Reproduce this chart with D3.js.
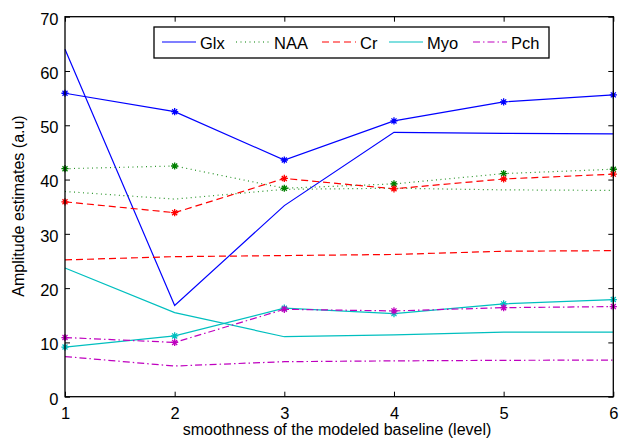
<!DOCTYPE html>
<html><head><meta charset="utf-8">
<script src="https://cdn.jsdelivr.net/npm/d3@7"></script>
<style>body{margin:0;background:#fff}svg{display:block;font-family:"Liberation Sans",Arial,sans-serif}</style>
</head><body><svg id="c" width="619" height="439"></svg>
<script>
const levels = [1, 2, 3, 4, 5, 6];
const xTicks = [1, 2, 3, 4, 5, 6];
const yTicks = [0, 10, 20, 30, 40, 50, 60, 70];
const glxMarked = [55.9, 52.5, 43.6, 50.8, 54.3, 55.6];
const glxPlain  = [64.0, 16.8, 35.2, 48.7, 48.5, 48.4];
const naaMarked = [42.0, 42.5, 38.4, 39.2, 41.1, 41.9];
const naaPlain  = [37.8, 36.4, 38.2, 38.4, 38.1, 38.0];
const crMarked  = [35.9, 33.9, 40.2, 38.3, 40.1, 41.0];
const crPlain   = [25.2, 25.8, 26.0, 26.2, 26.8, 26.9];
const myoMarked = [9.15, 11.2, 16.3, 15.3, 17.1, 17.9];
const myoPlain  = [23.7, 15.5, 11.05, 11.4, 11.9, 11.9];
const pchMarked = [10.9, 10.0, 16.1, 15.8, 16.4, 16.6];
const pchPlain  = [7.4, 5.65, 6.45, 6.6, 6.7, 6.75];
const legendNames = ["Glx", "NAA", "Cr", "Myo", "Pch"];

const series = [
  {name:"Glx", color:"#0000ff", dash:null, mcolor:"#0000ff", marked:glxMarked, plain:glxPlain},
  {name:"NAA", color:"#008000", dash:"1,3.5", mcolor:"#008000", marked:naaMarked, plain:naaPlain},
  {name:"Cr", color:"#ff0000", dash:"7,4", mcolor:"#ff0000", marked:crMarked, plain:crPlain},
  {name:"Myo", color:"#00bfbf", dash:null, mcolor:"#00bfbf", marked:myoMarked, plain:myoPlain},
  {name:"Pch", color:"#bf00bf", dash:"7,3,1.5,3", mcolor:"#bf00bf", marked:pchMarked, plain:pchPlain}
];

const svg = d3.select("#c");
const L = 65, R = 613.3, T = 16.7, B = 396.7;
const FS = 16.5;
const x = d3.scaleLinear().domain([1, 6]).range([L, R]);
const y = d3.scaleLinear().domain([0, 70]).range([B, T]);

const plot = svg.append("g");
const line = d3.line().x((d,i)=>x(levels[i])).y(d=>y(d));

function star(g, cx, cy, r, color){
  const p = `M${cx-r},${cy}L${cx+r},${cy}M${cx},${cy-r}L${cx},${cy+r}` +
    `M${cx-r*0.7},${cy-r*0.7}L${cx+r*0.7},${cy+r*0.7}M${cx-r*0.7},${cy+r*0.7}L${cx+r*0.7},${cy-r*0.7}`;
  g.append("path").attr("d", p).attr("stroke", color).attr("stroke-width", 1.3).attr("fill","none");
}

series.forEach(s=>{
  [s.plain, s.marked].forEach(arr=>{
    plot.append("path").datum(arr).attr("d", line).attr("fill","none")
      .attr("stroke", s.color).attr("stroke-width", 1.2)
      .attr("stroke-dasharray", s.dash).attr("stroke-opacity", s.name==="NAA"?0.85:1);
  });
  s.marked.forEach((v,i)=>star(plot, x(levels[i]), y(v), 3.6, s.mcolor));
});

// axes box
const ax = svg.append("g");
ax.append("rect").attr("x", L).attr("y", T).attr("width", R-L).attr("height", B-T)
  .attr("fill","none").attr("stroke","#000").attr("stroke-width",1.3);

const xAxB = d3.axisBottom(x).tickValues(xTicks).tickSize(-5).tickPadding(0).tickFormat(d3.format("d"));
const gxb = ax.append("g").attr("transform",`translate(0,${B})`).call(xAxB);
const xAxT = d3.axisTop(x).tickValues(xTicks).tickSize(-5).tickFormat("");
const gxt = ax.append("g").attr("transform",`translate(0,${T})`).call(xAxT);
const yAxL = d3.axisLeft(y).tickValues(yTicks).tickSize(-5).tickPadding(0);
const gyl = ax.append("g").attr("transform",`translate(${L},0)`).call(yAxL);
const yAxR = d3.axisRight(y).tickValues(yTicks).tickSize(-5).tickFormat("");
const gyr = ax.append("g").attr("transform",`translate(${R},0)`).call(yAxR);
[gxb,gxt,gyl,gyr].forEach(g=>{
  g.select(".domain").remove();
  g.selectAll("line").attr("stroke","#000").attr("stroke-width",1);
  g.selectAll("text").attr("font-size",FS).attr("fill","#000").attr("font-family","Liberation Sans, Arial, sans-serif");
});
gxb.selectAll("text").attr("y", 22).attr("dy", "0");
gyl.selectAll("text").attr("x", -6.5).attr("dy","0.45em");

// axis labels
svg.append("text").attr("x", 337).attr("y", 434.5).attr("text-anchor","middle")
  .attr("font-size",16).text("smoothness of the modeled baseline (level)");
svg.append("text").attr("transform","translate(24,206) rotate(-90)").attr("text-anchor","middle")
  .attr("font-size",16).text("Amplitude estimates (a.u)");

// legend
const lg = svg.append("g");
lg.append("rect").attr("x",154).attr("y",27).attr("width",395).attr("height",31)
  .attr("fill","#fff").attr("stroke","#000").attr("stroke-width",1.3);
const lineStarts = [162, 236, 322, 389, 473];
series.forEach((s,i)=>{
  lg.append("line").attr("x1", lineStarts[i]).attr("x2", lineStarts[i]+34).attr("y1",42).attr("y2",42)
    .attr("stroke", s.color).attr("stroke-width",1.2).attr("stroke-dasharray", s.dash);
  lg.append("text").attr("x", lineStarts[i]+38).attr("y", 48.5).attr("font-size",FS).text(legendNames[i]);
});
</script></body></html>
